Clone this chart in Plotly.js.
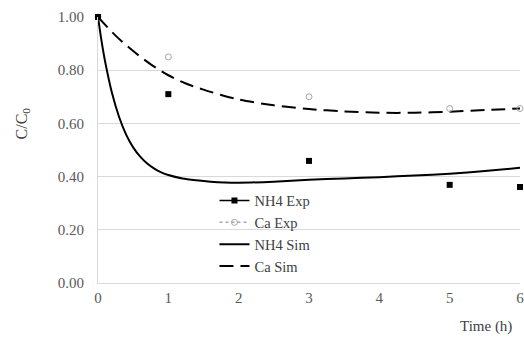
<!DOCTYPE html>
<html>
<head>
<meta charset="utf-8">
<script src="https://cdn.plot.ly/plotly-3.0.1.min.js"></script>
<style>html,body{margin:0;padding:0;background:#fff;}#chart{width:524px;height:343px;}</style>
</head>
<body>
<div id="chart"></div>
<script>
// Experimental points
const expTime = [0, 1, 3, 5, 6];
const nh4Exp = [1.00, 0.71, 0.459, 0.369, 0.361];
const caExp = [1.00, 0.85, 0.70, 0.656, 0.656];

// Simulated curves
const nh4SimTime = [0, 0.05, 0.1, 0.2, 0.3, 0.4, 0.5, 0.6, 0.7, 0.8, 0.9, 1.0, 1.2, 1.4, 1.6, 1.8, 2.0, 2.5, 3.0, 3.5, 4.0, 4.5, 5.0, 5.5, 6.0];
const nh4Sim = [1.0, 0.91, 0.834, 0.713, 0.624, 0.558, 0.51, 0.475, 0.449, 0.43, 0.416, 0.406, 0.393, 0.386, 0.381, 0.378, 0.377, 0.381, 0.388, 0.393, 0.398, 0.404, 0.411, 0.421, 0.433];
const caSimTime = [0, 0.25, 0.5, 0.75, 1, 1.25, 1.5, 1.75, 2, 2.5, 3, 3.5, 4, 4.5, 5, 5.5, 6];
const caSim = [1.0, 0.93, 0.872, 0.822, 0.781, 0.75, 0.727, 0.707, 0.69, 0.668, 0.654, 0.645, 0.640, 0.640, 0.644, 0.65, 0.656];

const seriesNames = ["NH4 Exp", "Ca Exp", "NH4 Sim", "Ca Sim"];
const yTicks = [0, 0.2, 0.4, 0.6, 0.8, 1.0];
const xTicks = [0, 1, 2, 3, 4, 5, 6];

const FONT = "Liberation Serif, Times New Roman, serif";

const traces = [
  {x: nh4SimTime, y: nh4Sim, mode: "lines", line: {color: "#000", width: 2, shape: "spline", smoothing: 0.8}, showlegend: false, hoverinfo: "skip"},
  {x: caSimTime, y: caSim, mode: "lines", line: {color: "#000", width: 2, dash: "14px,7px", shape: "spline", smoothing: 0.8}, showlegend: false, hoverinfo: "skip"},
  {x: expTime, y: caExp, mode: "markers", marker: {symbol: "circle-open", size: 6, color: "#a6a6a6", line: {width: 1, color: "#a6a6a6"}}, showlegend: false, cliponaxis: false},
  {x: expTime, y: nh4Exp, mode: "markers", marker: {symbol: "square", size: 6, color: "#000"}, showlegend: false, cliponaxis: false},
  // legend entries
  {x: [null], y: [null], name: seriesNames[0], mode: "lines+markers", line: {color: "#000", width: 1.5}, marker: {symbol: "square", size: 6, color: "#000"}},
  {x: [null], y: [null], name: seriesNames[1], mode: "lines+markers", line: {color: "#a6a6a6", width: 1.5, dash: "dot"}, marker: {symbol: "circle-open", size: 6, color: "#a6a6a6"}},
  {x: [null], y: [null], name: seriesNames[2], mode: "lines", line: {color: "#000", width: 2}},
  {x: [null], y: [null], name: seriesNames[3], mode: "lines", line: {color: "#000", width: 2, dash: "14px,7px"}}
];

const layout = {
  width: 524, height: 343,
  margin: {l: 98, r: 4, t: 17, b: 60},
  paper_bgcolor: "#fff", plot_bgcolor: "#fff",
  font: {family: FONT, size: 15, color: "#595959"},
  showlegend: true,
  legend: {x: 0.276, y: 0.37, xanchor: "left", yanchor: "top", bgcolor: "rgba(255,255,255,0)",
           font: {family: FONT, size: 14.5, color: "#404040"}, tracegroupgap: 0},
  xaxis: {range: [0, 6], tickvals: xTicks, ticktext: xTicks.map(String), showgrid: false, zeroline: false,
          showline: true, linecolor: "#d9d9d9", linewidth: 1, ticks: "", ticklabeloverflow: "allow", ticklabelstandoff: 1, fixedrange: true},
  yaxis: {range: [0, 1], tickvals: yTicks, ticktext: yTicks.map(v => v.toFixed(2)), showgrid: true, gridcolor: "#d9d9d9",
          zeroline: false, showline: true, linecolor: "#d9d9d9", linewidth: 1, ticks: "", ticklabelstandoff: 10, fixedrange: true},
  annotations: [
    {text: "C/C<sub>0</sub>", xref: "paper", yref: "paper", x: -0.18, y: 0.6, xanchor: "center", yanchor: "middle",
     textangle: -90, showarrow: false, font: {family: FONT, size: 16, color: "#404040"}},
    {text: "Time (h)", xref: "paper", yref: "paper", x: 0.985, y: -0.165, xanchor: "right", yanchor: "middle",
     showarrow: false, font: {family: FONT, size: 15, color: "#404040"}}
  ]
};

Plotly.newPlot("chart", traces, layout, {displayModeBar: false, staticPlot: true});
</script>
</body>
</html>
